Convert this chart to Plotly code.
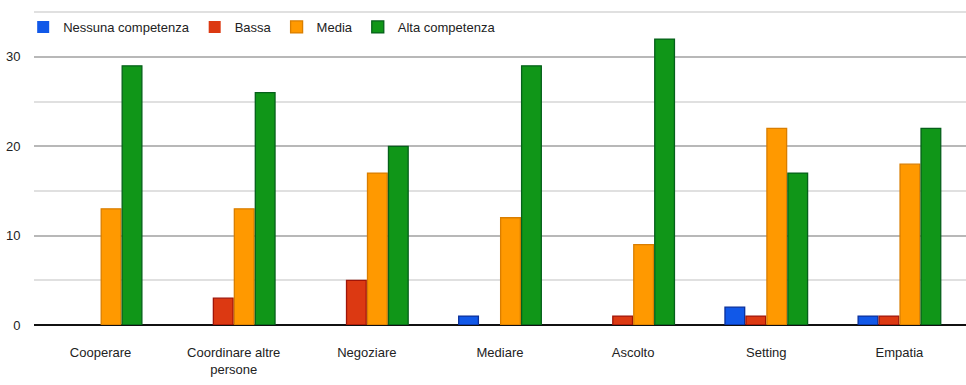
import plotly.graph_objects as go

categories = ["Cooperare", "Coordinare altre<br>persone", "Negoziare", "Mediare", "Ascolto", "Setting", "Empatia"]
series_names = ["Nessuna competenza", "Bassa", "Media", "Alta competenza"]
nessuna = [0, 0, 0, 1, 0, 2, 1]
bassa = [0, 3, 5, 0, 1, 1, 1]
media = [13, 13, 17, 12, 9, 22, 18]
alta = [29, 26, 20, 29, 32, 17, 22]
y_ticks = [0, 10, 20, 30]

fills = ["#1158e8", "#dc3912", "#ff9900", "#109618"]
borders = ["#0a2f9a", "#a01508", "#d97e00", "#05601a"]

FONT = "Liberation Sans Narrow, Arial Narrow, Liberation Sans, Arial, sans-serif"
FS = 13

fig = go.Figure()
for name, vals, fc, bc in zip(series_names, [nessuna, bassa, media, alta], fills, borders):
    fig.add_trace(go.Bar(
        x=categories, y=vals, name=name,
        marker=dict(color=fc, line=dict(color=bc, width=[0 if v == 0 else 1.3 for v in vals])),
    ))

fig.update_layout(
    width=966, height=385,
    margin=dict(l=34, r=0, t=10, b=60, autoexpand=False),
    paper_bgcolor="white", plot_bgcolor="white",
    barmode="group", bargap=0.37, bargroupgap=0.06,
    font=dict(family=FONT, size=FS, color="#222222"),
    showlegend=True,
    legend=dict(
        orientation="h", xref="container", yref="container",
        x=0.024, y=1 - 27 / 385, xanchor="left", yanchor="middle",
        bgcolor="rgba(255,255,255,0)", font=dict(family=FONT, size=FS, color="#222222"),
        itemwidth=30, traceorder="normal",
    ),
    xaxis=dict(
        showgrid=False, showline=False, zeroline=False,
        ticks="outside", ticklen=15, tickcolor="rgba(0,0,0,0)",
        tickfont=dict(family=FONT, size=FS, color="#222222"),
    ),
    yaxis=dict(
        range=[0, 35.25], tickvals=y_ticks, showgrid=True,
        gridcolor="#b8b8b8", gridwidth=1.5,
        zeroline=True, zerolinecolor="#111111", zerolinewidth=2,
        showline=False,
        ticks="outside", ticklen=10, tickcolor="rgba(0,0,0,0)",
        tickfont=dict(family=FONT, size=FS, color="#222222"),
        minor=dict(tickvals=[5, 15, 25, 35], showgrid=True, gridcolor="#e0e0e0", gridwidth=1.5),
    ),
)

fig.write_html("out.html")
